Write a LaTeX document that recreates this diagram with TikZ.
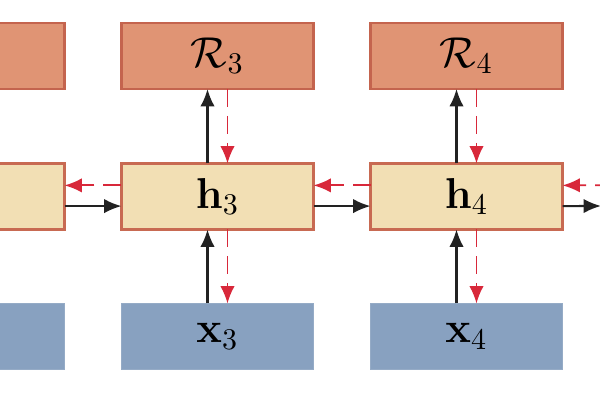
\documentclass[tikz,border=0pt]{standalone}
\usetikzlibrary{arrows.meta}
\definecolor{rfill}{HTML}{E09474}
\definecolor{rdraw}{HTML}{C4644E}
\definecolor{hfill}{HTML}{F2DFB4}
\definecolor{hdraw}{HTML}{C86A52}
\definecolor{xfill}{HTML}{88A1C0}
\definecolor{xdraw}{HTML}{95ABC6}
\definecolor{redarr}{HTML}{D8283A}
\definecolor{blkarr}{HTML}{222222}
\tikzset{
  cell/.style={minimum width=64pt,minimum height=22pt,inner sep=0pt,outer sep=0pt,font=\Large},
  rbox/.style={cell,fill=rfill,draw=rdraw,line width=0.9pt},
  hbox/.style={cell,fill=hfill,draw=hdraw,line width=0.9pt},
  xbox/.style={cell,fill=xfill,draw=xdraw,line width=0.4pt},
  fwd/.style={draw=blkarr,line width=0.7pt,-{Latex[length=5.8pt,width=4.8pt]}},
  bwd/.style={draw=redarr,line width=0.6pt,dash pattern=on 6pt off 3pt,-{Latex[length=5.8pt,width=4.8pt]}}
}
\begin{document}
\begin{tikzpicture}[x=0.33333pt,y=-0.33333pt]
\useasboundingbox (0,0) rectangle (600,400);
\clip (0,0) rectangle (600,400);
% column 2 (partial)
\node[rbox] (R2) at (-31.5,56) {};
\node[hbox] (h2) at (-31.5,196.5) {};
\node[xbox] (x2) at (-31.5,336.5) {};
% column 3
\node[rbox] (R3) at (217.5,56) {$\mathcal{R}_3$};
\node[hbox] (h3) at (217.5,196.5) {$\mathbf{h}_3$};
\node[xbox] (x3) at (217.5,336.5) {$\mathbf{x}_3$};
% column 4
\node[rbox] (R4) at (466.5,56) {$\mathcal{R}_4$};
\node[hbox] (h4) at (466.5,196.5) {$\mathbf{h}_4$};
\node[xbox] (x4) at (466.5,336.5) {$\mathbf{x}_4$};
% off-picture neighbours
\coordinate (rout) at (601,206);
\coordinate (rin) at (640,185);
% vertical arrows
\foreach \c in {3,4}{
  \draw[fwd] ([xshift=-3.33pt]x\c.north) -- ([xshift=-3.33pt]h\c.south);
  \draw[fwd] ([xshift=-3.33pt]h\c.north) -- ([xshift=-3.33pt]R\c.south);
  \draw[bwd] ([xshift=3.33pt]R\c.south) -- ([xshift=3.33pt]h\c.north);
  \draw[bwd] ([xshift=3.33pt]h\c.south) -- ([xshift=3.33pt]x\c.north);
}
% horizontal arrows
\draw[fwd] ([yshift=-3.2pt]h2.east) -- ([yshift=-3.2pt]h3.west);
\draw[fwd] ([yshift=-3.2pt]h3.east) -- ([yshift=-3.2pt]h4.west);
\draw[fwd] ([yshift=-3.2pt]h4.east) -- (rout);
\draw[bwd] ([yshift=3.7pt]h3.west) -- ([yshift=3.7pt]h2.east);
\draw[bwd] ([yshift=3.7pt]h4.west) -- ([yshift=3.7pt]h3.east);
\draw[bwd] (rin) -- ([yshift=3.7pt]h4.east);
\end{tikzpicture}
\end{document}
